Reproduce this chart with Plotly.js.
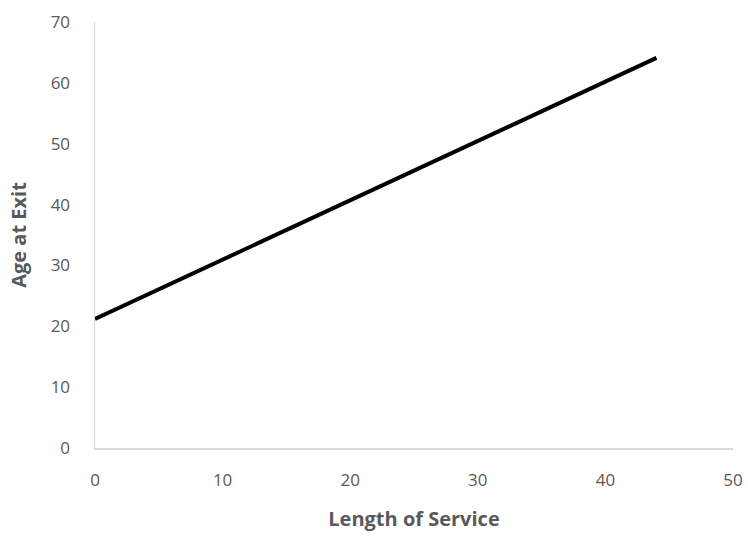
<!DOCTYPE html>
<html>
<head>
<meta charset="utf-8">
<script src="https://cdn.plot.ly/plotly-3.0.1.min.js"></script>
<style>html,body{margin:0;padding:0;background:#fff;}#chart{width:748px;height:536px;}</style>
</head>
<body>
<div id="chart"></div>
<script>
const lengthOfService = [0, 44];
const ageAtExit = [21.2, 64.1];
const xTicks = [0, 10, 20, 30, 40, 50];
const yTicks = [0, 10, 20, 30, 40, 50, 60, 70];

const trace = {
  x: lengthOfService,
  y: ageAtExit,
  type: 'scatter',
  mode: 'lines',
  line: {color: '#000000', width: 4},
  hoverinfo: 'skip'
};

const fam = 'Open Sans, sans-serif';
const layout = {
  width: 748,
  height: 536,
  margin: {l: 95, r: 15, t: 22, b: 88},
  paper_bgcolor: '#ffffff',
  plot_bgcolor: '#ffffff',
  showlegend: false,
  font: {family: fam, color: '#595959', size: 17},
  xaxis: {
    range: [0, 50],
    tickvals: xTicks,
    showgrid: false,
    zeroline: false,
    showline: true,
    linecolor: '#d9d9d9',
    linewidth: 1.5,
    ticks: '',
    ticklabelstandoff: 16,
    tickfont: {size: 17, color: '#595959', family: fam},
    title: {text: 'Length of Service', font: {size: 20, color: '#595959', family: fam, weight: 'bold'}, standoff: 22}
  },
  yaxis: {
    range: [0, 70],
    tickvals: yTicks,
    showgrid: false,
    zeroline: false,
    showline: true,
    linecolor: '#d9d9d9',
    linewidth: 1.5,
    ticks: '',
    ticklabelstandoff: 20,
    tickfont: {size: 17, color: '#595959', family: fam},
    title: {text: 'Age at Exit', font: {size: 20, color: '#595959', family: fam, weight: 'bold'}, standoff: 18}
  }
};

Plotly.newPlot('chart', [trace], layout, {displayModeBar: false, staticPlot: true});
</script>
</body>
</html>
